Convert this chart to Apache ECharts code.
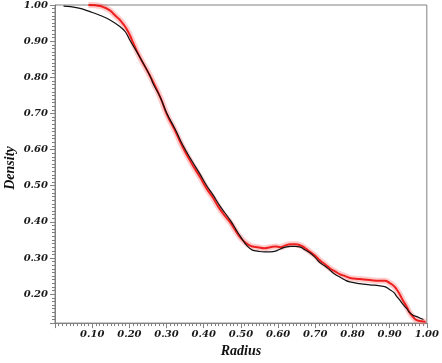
<!DOCTYPE html>
<html>
<head>
<meta charset="utf-8">
<script src="https://cdn.jsdelivr.net/npm/echarts@6/dist/echarts.min.js"></script>
<style>
  html, body { margin: 0; padding: 0; background: #fff; }
  #main { width: 442px; height: 363px; }
</style>
</head>
<body>
<div id="main"></div>
<script>
// black curve (radius, density)
const blackX = [0.023, 0.061, 0.096, 0.122, 0.149, 0.176, 0.189, 0.202, 0.229, 0.256, 0.264, 0.283, 0.301, 0.323, 0.344, 0.368, 0.390, 0.408, 0.424, 0.443, 0.456, 0.473, 0.486, 0.499, 0.518, 0.531, 0.545, 0.563, 0.579, 0.593, 0.606, 0.620, 0.633, 0.646, 0.660, 0.673, 0.686, 0.700, 0.713, 0.727, 0.740, 0.753, 0.767, 0.780, 0.793, 0.820, 0.847, 0.874, 0.887, 0.900, 0.911, 0.919, 0.927, 0.935, 0.946, 0.954, 0.964, 0.973, 0.981, 0.991];
const blackY = [0.997, 0.992, 0.981, 0.971, 0.958, 0.939, 0.926, 0.902, 0.854, 0.803, 0.782, 0.745, 0.700, 0.657, 0.612, 0.569, 0.532, 0.500, 0.476, 0.445, 0.426, 0.402, 0.380, 0.359, 0.332, 0.322, 0.319, 0.317, 0.317, 0.319, 0.325, 0.330, 0.332, 0.332, 0.330, 0.322, 0.314, 0.301, 0.287, 0.277, 0.266, 0.255, 0.247, 0.239, 0.234, 0.229, 0.226, 0.223, 0.221, 0.213, 0.205, 0.194, 0.184, 0.173, 0.160, 0.149, 0.141, 0.138, 0.134, 0.130];

// red samples (radius, density)
const redX = [0.090, 0.109, 0.122, 0.133, 0.141, 0.149, 0.157, 0.168, 0.176, 0.186, 0.194, 0.202, 0.210, 0.229, 0.256, 0.283, 0.301, 0.323, 0.344, 0.368, 0.390, 0.408, 0.424, 0.443, 0.456, 0.473, 0.486, 0.499, 0.518, 0.531, 0.545, 0.563, 0.579, 0.593, 0.606, 0.620, 0.633, 0.646, 0.660, 0.673, 0.686, 0.700, 0.713, 0.727, 0.740, 0.753, 0.767, 0.780, 0.793, 0.820, 0.847, 0.874, 0.887, 0.900, 0.911, 0.919, 0.927, 0.935, 0.946, 0.954, 0.964, 0.973, 0.986, 0.997];
const redY = [1.000, 0.999, 0.997, 0.993, 0.989, 0.984, 0.976, 0.965, 0.957, 0.944, 0.931, 0.915, 0.896, 0.854, 0.803, 0.745, 0.697, 0.652, 0.606, 0.561, 0.524, 0.492, 0.468, 0.436, 0.418, 0.396, 0.375, 0.356, 0.338, 0.332, 0.330, 0.327, 0.330, 0.332, 0.330, 0.335, 0.338, 0.338, 0.335, 0.327, 0.317, 0.306, 0.293, 0.282, 0.271, 0.263, 0.255, 0.250, 0.245, 0.242, 0.239, 0.237, 0.237, 0.231, 0.223, 0.213, 0.200, 0.184, 0.165, 0.149, 0.136, 0.128, 0.125, 0.124];

const xTicks = ['0.10', '0.20', '0.30', '0.40', '0.50', '0.60', '0.70', '0.80', '0.90', '1.00'];
const yTicks = ['0.20', '0.30', '0.40', '0.50', '0.60', '0.70', '0.80', '0.90', '1.00'];

const tickFont = { fontFamily: 'DejaVu Serif', fontWeight: 'bold', fontStyle: 'italic', color: '#1a1a1a', fontSize: 10 };
const nameFont = { fontFamily: 'Liberation Serif', fontWeight: 'bold', fontStyle: 'italic', color: '#111', fontSize: 14 };
const axisGray = '#808080';

const blackData = blackX.map((x, i) => [x, blackY[i]]);
const redData = redX.map((x, i) => [x, redY[i]]);

const chart = echarts.init(document.getElementById('main'));
chart.setOption({
  animation: false,
  backgroundColor: '#fff',
  grid: { left: 55, right: 14, top: 4, bottom: 28, show: true, borderColor: axisGray, borderWidth: 1 },
  xAxis: {
    type: 'value', min: 0, max: 1, interval: 0.1,
    name: 'Radius', nameLocation: 'middle', nameGap: 17,
    nameTextStyle: nameFont,
    axisLine: { lineStyle: { color: axisGray } },
    axisTick: { inside: false, length: 5, lineStyle: { color: axisGray } },
    minorTick: { show: true, splitNumber: 10, length: 3, lineStyle: { color: axisGray } },
    splitLine: { show: false },
    axisLabel: Object.assign({
      margin: 6,
      formatter: v => { const s = v.toFixed(2); return xTicks.includes(s) ? s : ''; }
    }, tickFont)
  },
  yAxis: {
    type: 'value', min: 0.12, max: 1, splitNumber: 9,
    axisLine: { show: true, lineStyle: { color: axisGray } },
    axisTick: { show: true, inside: false, length: 5, lineStyle: { color: axisGray } },
    minorTick: { show: true, splitNumber: 10, length: 3, lineStyle: { color: axisGray } },
    splitLine: { show: false },
    axisLabel: Object.assign({
      margin: 7,
      formatter: v => { const s = v.toFixed(2); return yTicks.includes(s) ? s : ''; }
    }, tickFont)
  },
  graphic: [{
    type: 'text', x: 10, y: 168, rotation: Math.PI / 2,
    style: {
      text: 'Density', align: 'center', verticalAlign: 'middle', fill: '#111',
      fontFamily: 'Liberation Serif', fontWeight: 'bold', fontStyle: 'italic', fontSize: 14
    }
  }],
  series: [
    {
      type: 'line', data: redData, showSymbol: false, smooth: true, z: 2,
      lineStyle: { color: 'rgba(255,110,110,0.35)', width: 6 }
    },
    {
      type: 'line', data: redData, showSymbol: false, smooth: true, z: 3,
      lineStyle: { color: 'rgba(235,0,0,0.85)', width: 2 }
    },
    {
      type: 'line', data: blackData, showSymbol: false, smooth: true, z: 4,
      lineStyle: { color: '#111', width: 1.2 }
    }
  ]
});
</script>
</body>
</html>
